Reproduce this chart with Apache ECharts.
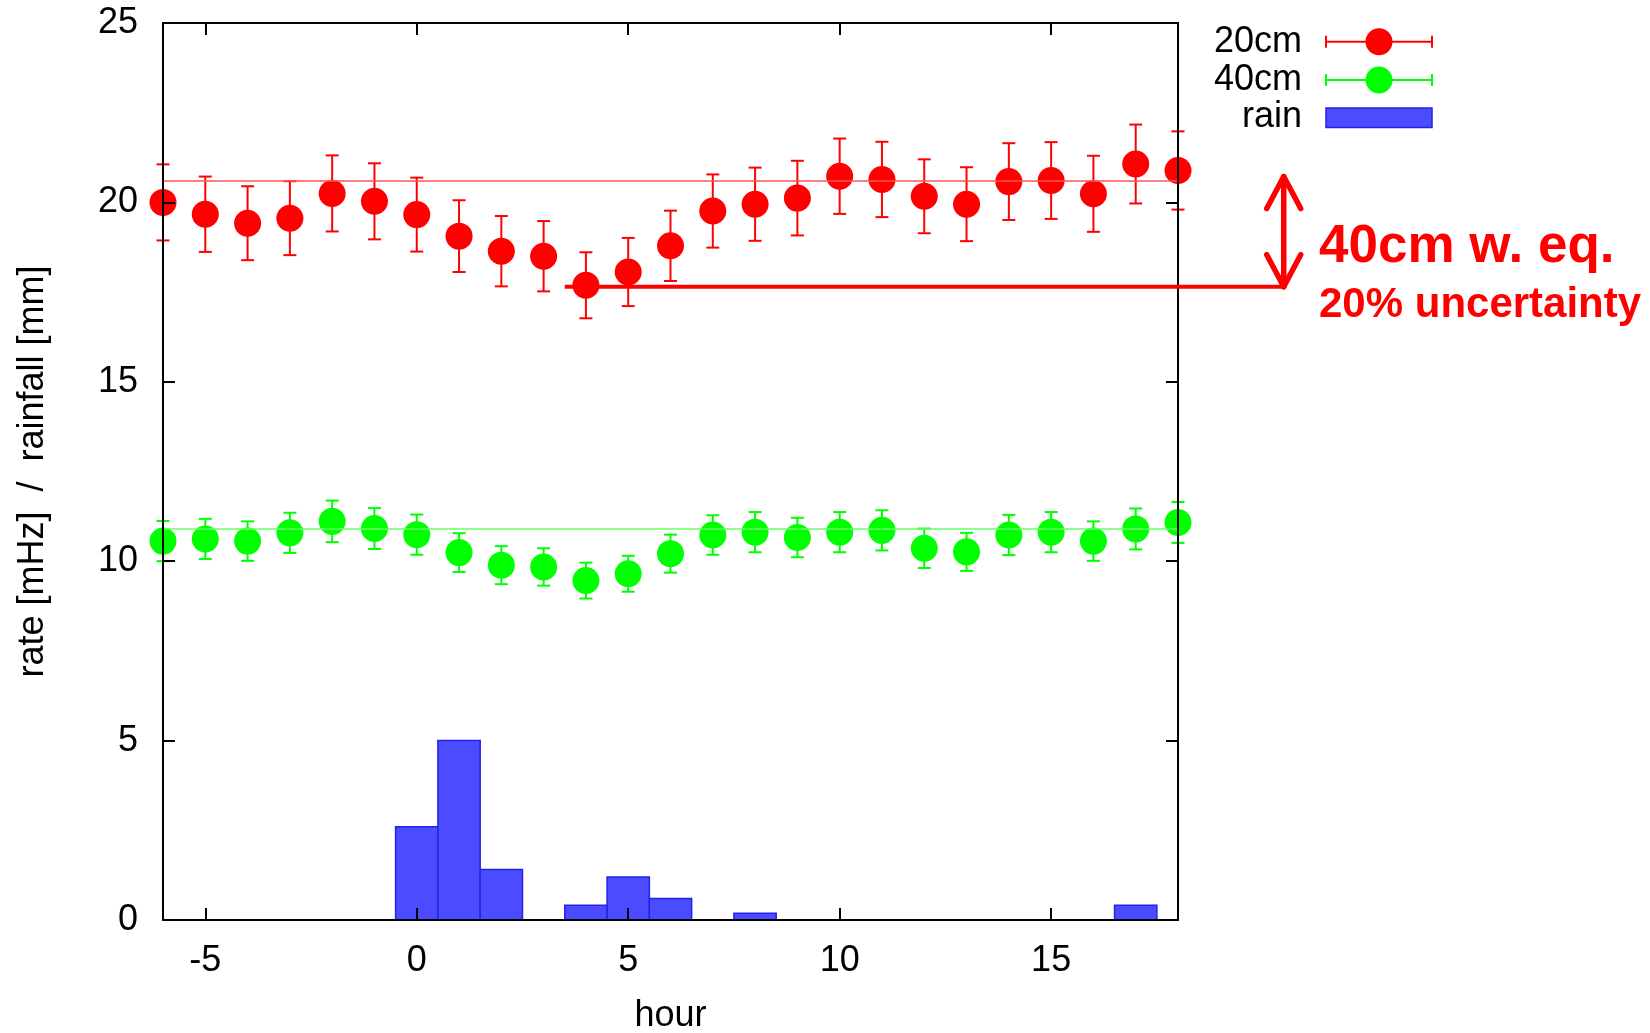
<!DOCTYPE html>
<html><head><meta charset="utf-8">
<script src="https://cdn.jsdelivr.net/npm/echarts@6/dist/echarts.min.js"></script>
<style>html,body{margin:0;padding:0;background:#fff}#c{width:1650px;height:1033px}</style>
</head><body><div id="c"></div>
<script>
const hours = [-6,-5,-4,-3,-2,-1,0,1,2,3,4,5,6,7,8,9,10,11,12,13,14,15,16,17,18];
const rate20 = [20.0,19.67,19.42,19.56,20.25,20.03,19.66,19.06,18.64,18.5,17.69,18.06,18.79,19.76,19.95,20.12,20.73,20.64,20.17,19.95,20.58,20.61,20.24,21.07,20.89];
const err20 = [1.06,1.05,1.03,1.03,1.06,1.06,1.03,1.0,0.98,0.98,0.92,0.95,0.98,1.02,1.02,1.04,1.05,1.05,1.03,1.03,1.07,1.07,1.06,1.1,1.09];
const rate40 = [10.56,10.62,10.56,10.79,11.11,10.91,10.74,10.24,9.89,9.84,9.46,9.65,10.21,10.73,10.81,10.66,10.81,10.86,10.36,10.26,10.73,10.81,10.56,10.9,11.08];
const err40 = [0.56,0.56,0.55,0.56,0.58,0.57,0.56,0.54,0.53,0.52,0.5,0.5,0.53,0.55,0.56,0.55,0.56,0.56,0.55,0.53,0.56,0.56,0.55,0.57,0.57];
const rainHours = [0,1,2,4,5,6,8,17];
const rain = [2.6,5.0,1.41,0.41,1.2,0.6,0.19,0.41];
const mean20 = 20.6;
const mean40 = 10.9;
const xTicks = [-5,0,5,10,15];
const yTicks = [0,5,10,15,20,25];
// annotation (data units)
const annStartHour = 3.5, annArrowHour = 20.5, annLow = 17.65, annHigh = 20.72;
const annTitle = '40cm w. eq.';
const annSub = '20% uncertainty';

const FONT = '"Liberation Sans", Arial, Helvetica, sans-serif';
const RED = '#ff0000', GREEN = '#00ff00';
const FS = 36;

const chart = echarts.init(document.getElementById('c'), null, {renderer:'canvas'});

function errData(vals, errs){ return hours.map((h,i)=>[h, vals[i]-errs[i], vals[i]+errs[i]]); }
function errRender(color){
  return function(params, api){
    const x = api.value(0);
    const lo = api.coord([x, api.value(1)]);
    const hi = api.coord([x, api.value(2)]);
    const cw = 6.5;
    const st = {stroke: color, lineWidth: 2};
    return {type:'group', children:[
      {type:'line', shape:{x1:lo[0],y1:lo[1],x2:hi[0],y2:hi[1]}, style:st},
      {type:'line', shape:{x1:lo[0]-cw,y1:lo[1],x2:lo[0]+cw,y2:lo[1]}, style:st},
      {type:'line', shape:{x1:hi[0]-cw,y1:hi[1],x2:hi[0]+cw,y2:hi[1]}, style:st}
    ]};
  };
}

const axisCommon = {
  axisLine:{show:true, onZero:false, lineStyle:{color:'#000', width:2}},
  splitLine:{show:false},
  z: 10
};
const tickStyle = {color:'#000', width:2};

chart.setOption({
  animation:false,
  backgroundColor:'#fff',
  grid:{left:163, top:23, width:1015, height:897, containLabel:false, outerBoundsMode:'none'},
  xAxis:[
    Object.assign({type:'value', min:-6, max:18, position:'bottom',
      name:'hour', nameLocation:'middle', nameGap:78,
      nameTextStyle:{fontFamily:FONT, fontSize:FS, color:'#000'},
      axisTick:{show:true, inside:true, length:12, lineStyle:tickStyle, customValues:xTicks},
      axisLabel:{show:true, margin:23, fontFamily:FONT, fontSize:FS, color:'#000', customValues:xTicks}
    }, axisCommon),
    Object.assign({type:'value', min:-6, max:18, position:'top',
      axisTick:{show:true, inside:true, length:12, lineStyle:tickStyle, customValues:xTicks},
      axisLabel:{show:false}
    }, axisCommon)
  ],
  yAxis:[
    Object.assign({type:'value', min:0, max:25, interval:5, position:'left',
      name:'rate [mHz]  /  rainfall [mm]', nameLocation:'middle', nameGap:112,
      nameTextStyle:{fontFamily:FONT, fontSize:FS, color:'#000'},
      axisTick:{show:true, inside:true, length:12, lineStyle:tickStyle, customValues:yTicks},
      axisLabel:{show:true, margin:25, fontFamily:FONT, fontSize:FS, color:'#000', customValues:yTicks}
    }, axisCommon),
    Object.assign({type:'value', min:0, max:25, interval:5, position:'right',
      axisTick:{show:true, inside:true, length:12, lineStyle:tickStyle, customValues:yTicks},
      axisLabel:{show:false}
    }, axisCommon)
  ],
  series:[
    {type:'custom', name:'rain', xAxisIndex:0, yAxisIndex:0, clip:false, z:1,
      data: rainHours.map((h,i)=>[h, rain[i]]),
      renderItem:function(params, api){
        const h = api.value(0), v = api.value(1);
        const p0 = api.coord([h-0.5, 0]);
        const p1 = api.coord([h+0.5, v]);
        return {type:'rect', shape:{x:p0[0], y:p1[1], width:p1[0]-p0[0], height:p0[1]-p1[1]},
          style:{fill:'#4b4bff', stroke:'#2222ee', lineWidth:1.5}};
      }
    },
    {type:'custom', name:'err20', clip:false, z:3, data: errData(rate20, err20), renderItem: errRender(RED)},
    {type:'custom', name:'err40', clip:false, z:3, data: errData(rate40, err40), renderItem: errRender(GREEN)},
    {type:'scatter', name:'20cm', clip:false, z:4, symbol:'circle', symbolSize:27,
      itemStyle:{color:RED, opacity:1}, data: hours.map((h,i)=>[h, rate20[i]]),
      markLine:{silent:true, symbol:'none', label:{show:false}, lineStyle:{color:'#ff5555', width:1.5, type:'solid', opacity:1},
        data:[{yAxis: mean20}]}
    },
    {type:'scatter', name:'40cm', clip:false, z:4, symbol:'circle', symbolSize:27,
      itemStyle:{color:GREEN, opacity:1}, data: hours.map((h,i)=>[h, rate40[i]]),
      markLine:{silent:true, symbol:'none', label:{show:false}, lineStyle:{color:'#66ff66', width:1.5, type:'solid', opacity:1},
        data:[{yAxis: mean40}]}
    }
  ]
});

// annotation + legend drawn with graphic elements, positioned through the axes
const pStart = chart.convertToPixel({xAxisIndex:0, yAxisIndex:0}, [annStartHour, annLow]);
const pLow = chart.convertToPixel({xAxisIndex:0, yAxisIndex:0}, [annArrowHour, annLow]);
const pHigh = chart.convertToPixel({xAxisIndex:0, yAxisIndex:0}, [annArrowHour, annHigh]);
const ax = pLow[0];
const aw = 17, ah = 32;
const annStyle = {stroke:RED, lineWidth:5.5, lineCap:'round', lineJoin:'round', fill:null};
const lx1 = 1326, lx2 = 1432, lcx = 1379;
const rows = [41.7, 80, 117.5];
function legendErr(y, color){
  const st = {stroke:color, lineWidth:2};
  return [
    {type:'line', shape:{x1:lx1,y1:y,x2:lx2,y2:y}, style:st, z:20},
    {type:'line', shape:{x1:lx1,y1:y-6,x2:lx1,y2:y+6}, style:st, z:20},
    {type:'line', shape:{x1:lx2,y1:y-6,x2:lx2,y2:y+6}, style:st, z:20},
    {type:'circle', shape:{cx:lcx, cy:y, r:13.5}, style:{fill:color}, z:21}
  ];
}
function legendText(t, y){
  return {type:'text', x:1302, y:y, z:20, style:{text:t, fill:'#000', font:FS+'px '+FONT, align:'right', verticalAlign:'middle'}};
}
chart.setOption({graphic:[].concat(
  [
    {type:'polyline', shape:{points:[[pStart[0], pStart[1]],[ax, pLow[1]]]}, style:{stroke:RED, lineWidth:4, fill:null}, z:20},
    {type:'line', shape:{x1:ax,y1:pLow[1],x2:ax,y2:pHigh[1]}, style:annStyle, z:20},
    {type:'polyline', shape:{points:[[ax-aw,pHigh[1]+ah],[ax,pHigh[1]],[ax+aw,pHigh[1]+ah]]}, style:annStyle, z:20},
    {type:'polyline', shape:{points:[[ax-aw,pLow[1]-ah],[ax,pLow[1]],[ax+aw,pLow[1]-ah]]}, style:annStyle, z:20},
    {type:'text', x:1319, y:266-0.35*53, z:20, style:{text:annTitle, fill:RED, font:'bold 53px '+FONT, align:'left', verticalAlign:'middle'}},
    {type:'text', x:1319, y:320-0.35*42, z:20, style:{text:annSub, fill:RED, font:'bold 42px '+FONT, align:'left', verticalAlign:'middle'}},
    legendText('20cm', rows[0]), legendText('40cm', rows[1]), legendText('rain', rows[2]),
    {type:'rect', shape:{x:lx1, y:108, width:lx2-lx1, height:19.5}, style:{fill:'#4b4bff', stroke:'#2222ee', lineWidth:1.5}, z:20}
  ],
  legendErr(rows[0], RED), legendErr(rows[1], GREEN)
)});
</script>
</body></html>
